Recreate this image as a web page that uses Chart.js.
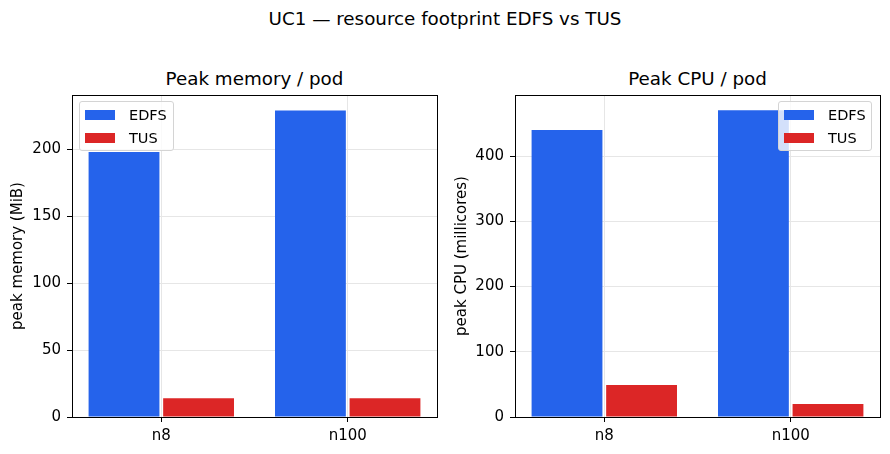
<!DOCTYPE html>
<html><head><meta charset="utf-8">
<script src="https://cdn.jsdelivr.net/npm/chart.js@4.4.1/dist/chart.umd.min.js"></script>
<style>
body{margin:0;background:#fff;width:890px;height:454px;overflow:hidden;position:relative;font-family:"DejaVu Sans",sans-serif;}
canvas{position:absolute;top:0;}
.t{position:absolute;white-space:nowrap;transform:translate(-50%,-50%);color:#000;line-height:1;}
.lg{position:absolute;border:1px solid #d4d4d4;border-radius:3px;background:rgba(255,255,255,0.8);box-sizing:border-box;}
.lg .p{position:absolute;width:30px;height:10px;}
.lg .l{position:absolute;font-size:14.5px;line-height:1;transform:translateY(-50%);white-space:nowrap;}
</style></head>
<body>
<div class="t" style="left:445px;top:19px;font-size:18.3px;">UC1 — resource footprint EDFS vs TUS</div>
<div class="t" style="left:254.5px;top:79px;font-size:18.3px;">Peak memory / pod</div>
<div class="t" style="left:697.5px;top:79px;font-size:18.3px;">Peak CPU / pod</div>
<canvas id="c1" width="445" height="454" style="left:0;"></canvas>
<canvas id="c2" width="445" height="454" style="left:445px;"></canvas>
<div id="lg1" class="lg" style="left:79px;top:101px;width:95px;height:50px;"></div>
<div id="lg2" class="lg" style="left:778px;top:101px;width:94px;height:50px;"></div>
<script>
const categories = ['n8', 'n100'];
const seriesNames = ['EDFS', 'TUS'];
const memEDFS = [198, 229];
const memTUS = [14, 14];
const cpuEDFS = [440, 470];
const cpuTUS = [49, 20];
const memTicks = [0, 50, 100, 150, 200];
const cpuTicks = [0, 100, 200, 300, 400];
const colors = ['#2563eb', '#dc2626'];

Chart.defaults.font.family = 'DejaVu Sans';
Chart.defaults.color = '#000';

const frame = {
  id: 'frame',
  afterDatasetsDraw(chart) {
    const a = chart.chartArea, ctx = chart.ctx;
    ctx.save();
    ctx.strokeStyle = '#000';
    ctx.lineWidth = 1;
    ctx.strokeRect(Math.round(a.left) + 0.5, Math.round(a.top) + 0.5, Math.round(a.right - a.left), Math.round(a.bottom - a.top));
    ctx.restore();
  }
};

function makeChart(id, a, b, ticks, ymax, ylabel, padRight, yWidth, titlePad) {
  const ds = (label, vals, color) => ({
    label,
    data: vals.map((v, i) => ({ x: i, y: v })),
    backgroundColor: color, borderWidth: 0, categoryPercentage: 0.8, barPercentage: 0.95
  });
  return new Chart(document.getElementById(id), {
    type: 'bar',
    data: { datasets: [ds(seriesNames[0], a, colors[0]), ds(seriesNames[1], b, colors[1])] },
    options: {
      responsive: false,
      animation: false,
      devicePixelRatio: 1,
      layout: { padding: { top: 95, right: padRight, bottom: 0, left: 0 } },
      plugins: { legend: { display: false }, tooltip: { enabled: false }, title: { display: false } },
      scales: {
        x: {
          type: 'linear',
          min: -0.479, max: 1.479,
          offset: false,
          grid: { offset: false, color: '#e6e6e6', tickColor: '#000', tickLength: 5, drawTicks: true },
          border: { display: false },
          ticks: { font: { size: 15 }, padding: 5, color: '#000', callback: v => categories[v] },
          afterBuildTicks(s) { s.ticks = categories.map((c, i) => ({ value: i })); },
          afterFit(s) { s.height = 37; }
        },
        y: {
          min: 0, max: ymax,
          grid: { color: '#e6e6e6', tickColor: '#000', tickLength: 5 },
          border: { display: false },
          ticks: { font: { size: 15 }, padding: 6, color: '#000' },
          afterBuildTicks(s) { s.ticks = ticks.map(v => ({ value: v })); },
          title: { display: true, text: ylabel, font: { size: 15 }, padding: { top: titlePad, bottom: 0 }, color: '#000' },
          afterFit(s) { s.width = yWidth; }
        }
      }
    },
    plugins: [frame]
  });
}

makeChart('c1', memEDFS, memTUS, memTicks, 240.5, 'peak memory (MiB)', 8, 72, 9);
makeChart('c2', cpuEDFS, cpuTUS, cpuTicks, 493.5, 'peak CPU (millicores)', 10, 70, 8);

function legend(id) {
  const el = document.getElementById(id);
  const rows = [13, 35.7];
  seriesNames.forEach((n, i) => {
    const p = document.createElement('div');
    p.className = 'p';
    p.style.left = '5px';
    p.style.top = (rows[i] - 5) + 'px';
    p.style.background = colors[i];
    el.appendChild(p);
    const l = document.createElement('div');
    l.className = 'l';
    l.style.left = '49px';
    l.style.top = rows[i] + 'px';
    l.textContent = n;
    el.appendChild(l);
  });
}
legend('lg1');
legend('lg2');
</script>
</body></html>
